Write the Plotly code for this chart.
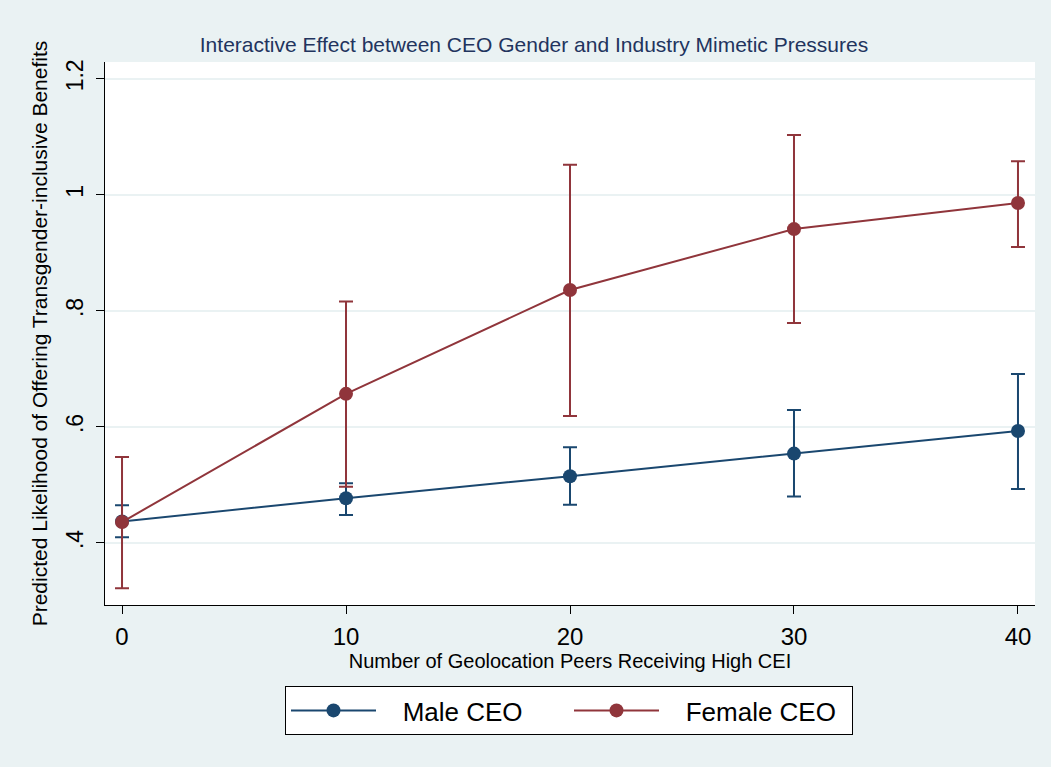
import plotly.graph_objects as go

# Predictive margins by number of geolocation peers receiving a high CEI score
peers = [0, 10, 20, 30, 40]

male_est = [0.437, 0.477, 0.515, 0.554, 0.593]
male_lo = [0.410, 0.448, 0.466, 0.480, 0.493]
male_hi = [0.465, 0.503, 0.565, 0.629, 0.691]

female_est = [0.436, 0.657, 0.836, 0.941, 0.986]
female_lo = [0.322, 0.497, 0.619, 0.779, 0.910]
female_hi = [0.548, 0.816, 1.052, 1.103, 1.058]

y_ticks = [0.4, 0.6, 0.8, 1.0, 1.2]
y_tick_labels = [".4", ".6", ".8", "1", "1.2"]
x_ticks = [0, 10, 20, 30, 40]

NAVY = "#1a476f"
MAROON = "#90353b"
TITLE_BLUE = "#22345e"
BG = "#eaf2f3"
FONT = "Arial, Liberation Sans, Helvetica, sans-serif"
GAP = "\u00a0\u00a0\u00a0"  # extra room between legend key and label


def series(name, est, lo, hi, color):
    return go.Scatter(
        x=peers,
        y=est,
        name=GAP + name,
        mode="lines+markers",
        line=dict(color=color, width=2),
        marker=dict(color=color, size=14),
        error_y=dict(
            type="data",
            symmetric=False,
            array=[h - e for h, e in zip(hi, est)],
            arrayminus=[e - l for e, l in zip(est, lo)],
            color=color,
            thickness=2,
            width=7,
        ),
    )


fig = go.Figure()
fig.add_trace(series("Male CEO", male_est, male_lo, male_hi, NAVY))
fig.add_trace(series("Female CEO", female_est, female_lo, female_hi, MAROON))

fig.update_layout(
    width=1051,
    height=767,
    paper_bgcolor=BG,
    plot_bgcolor="white",
    margin=dict(l=105, r=16, t=62, b=162),
    font=dict(family=FONT, color="black"),
    title=dict(
        text="Interactive Effect between CEO Gender and Industry Mimetic Pressures",
        font=dict(size=21, color=TITLE_BLUE),
        x=534 / 1051,
        xanchor="center",
        y=1 - 45 / 767,
        yanchor="middle",
    ),
    legend=dict(
        orientation="h",
        xref="container",
        yref="container",
        x=569 / 1051,
        xanchor="center",
        y=1 - 686 / 767,
        yanchor="top",
        bgcolor="white",
        bordercolor="black",
        borderwidth=1,
        font=dict(size=26, color="black"),
        itemwidth=85,
        entrywidth=183,
    ),
    showlegend=True,
)

fig.update_xaxes(
    range=[-0.76, 40.76],
    tickvals=x_ticks,
    ticks="outside",
    ticklen=8,
    tickcolor="black",
    tickfont=dict(size=24),
    ticklabelstandoff=2,
    showline=True,
    linecolor="black",
    linewidth=1,
    showgrid=False,
    zeroline=False,
    title=dict(
        text="Number of Geolocation Peers Receiving High CEI",
        font=dict(size=20),
        standoff=2,
    ),
)

fig.update_yaxes(
    range=[0.293, 1.229],
    tickvals=y_ticks,
    ticktext=y_tick_labels,
    tickangle=-90,
    ticks="outside",
    ticklen=8,
    tickcolor="black",
    tickfont=dict(size=23),
    ticklabelstandoff=4,
    showline=True,
    linecolor="black",
    linewidth=1,
    showgrid=True,
    gridcolor=BG,
    gridwidth=2,
    zeroline=False,
    title=dict(
        text="Predicted Likelihood of Offering Transgender-inclusive Benefits",
        font=dict(size=21),
        standoff=8,
    ),
)

fig.write_html("out.html")
